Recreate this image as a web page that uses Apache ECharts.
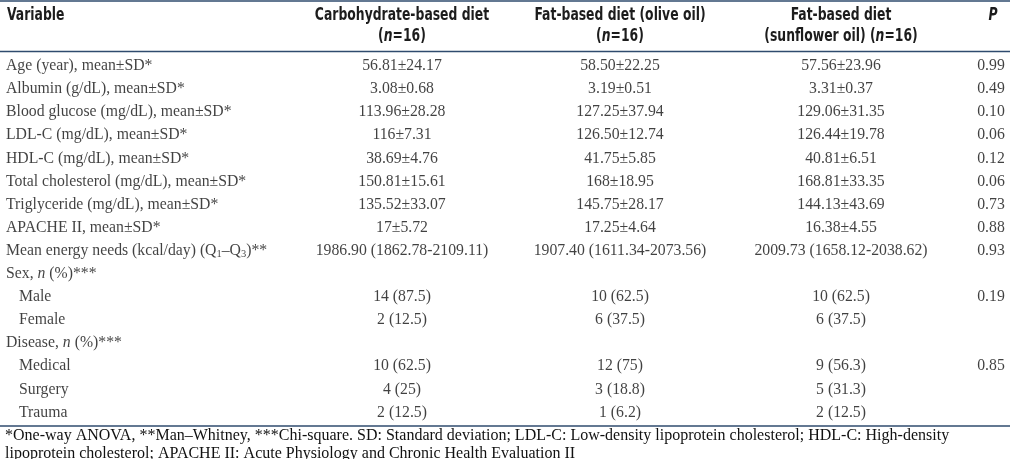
<!DOCTYPE html>
<html>
<head>
<meta charset="utf-8">
<script src="https://cdn.jsdelivr.net/npm/echarts@6/dist/echarts.min.js"></script>
<style>html,body{margin:0;padding:0;background:#fff;}#c{width:1010px;height:459px;}</style>
</head>
<body>
<div id="c"></div>
<script>
const variables = ["Age (year), mean±SD*", "Albumin (g/dL), mean±SD*", "Blood glucose (mg/dL), mean±SD*", "LDL-C (mg/dL), mean±SD*", "HDL-C (mg/dL), mean±SD*", "Total cholesterol (mg/dL), mean±SD*", "Triglyceride (mg/dL), mean±SD*", "APACHE II, mean±SD*", "Mean energy needs (kcal/day) (Q1–Q3)**", "Sex, n (%)***", "Male", "Female", "Disease, n (%)***", "Medical", "Surgery", "Trauma"];
const indentLevel = [0,0,0,0,0,0,0,0,0,0,1,1,0,1,1,1];
const carbohydrate = ["56.81±24.17","3.08±0.68","113.96±28.28","116±7.31","38.69±4.76","150.81±15.61","135.52±33.07","17±5.72","1986.90 (1862.78-2109.11)","","14 (87.5)","2 (12.5)","","10 (62.5)","4 (25)","2 (12.5)"];
const oliveOil = ["58.50±22.25","3.19±0.51","127.25±37.94","126.50±12.74","41.75±5.85","168±18.95","145.75±28.17","17.25±4.64","1907.40 (1611.34-2073.56)","","10 (62.5)","6 (37.5)","","12 (75)","3 (18.8)","1 (6.2)"];
const sunflowerOil = ["57.56±23.96","3.31±0.37","129.06±31.35","126.44±19.78","40.81±6.51","168.81±33.35","144.13±43.69","16.38±4.55","2009.73 (1658.12-2038.62)","","10 (62.5)","6 (37.5)","","9 (56.3)","5 (31.3)","2 (12.5)"];
const pValues = ["0.99","0.49","0.10","0.06","0.12","0.06","0.73","0.88","0.93","","0.19","","","0.85","",""];
const headers = ["Variable", "Carbohydrate-based diet", "(n=16)", "Fat-based diet (olive oil)", "(n=16)", "Fat-based diet", "(sunflower oil) (n=16)", "P"];
const footnote = ["*One-way ANOVA, **Man–Whitney, ***Chi-square. SD: Standard deviation; LDL-C: Low-density lipoprotein cholesterol; HDL-C: High-density", "lipoprotein cholesterol; APACHE II: Acute Physiology and Chronic Health Evaluation II"];

// layout
const W = 1010;
const colX = {variable: 6, indent: 19, carb: 402, olive: 620, sun: 841, p: 991};
const ruleColor = '#2f4b6e';
const bodyFont = '"Liberation Serif", "Times New Roman", serif';
const headFont = '"DejaVu Sans Condensed", "Liberation Sans Narrow", "Arial Narrow", sans-serif';
const textColor = '#111';
const bodySize = 15.75;
const gridTop = 54.5, rowH = 23.1;

const chart = echarts.init(document.getElementById('c'), null, {renderer: 'canvas'});

function richVar(s) {
  return s.replace(', n (', ', {i|n} (').replace('(Q1–Q3)', '(Q{sub|1}–Q{sub|3})');
}
const labelBase = {fontFamily: bodyFont, fontSize: bodySize, color: textColor, lineHeight: 18,
  rich: {
    i: {fontFamily: bodyFont, fontSize: bodySize, fontStyle: 'italic', color: textColor, lineHeight: 18},
    sub: {fontFamily: bodyFont, fontSize: 10.5, color: textColor, lineHeight: 10, verticalAlign: 'bottom'}
  }};

function colSeries(values, xFn, align) {
  return {
    type: 'scatter', silent: true, symbolSize: 1, itemStyle: {color: 'rgba(0,0,0,0)'},
    data: values.map((v, i) => ({value: [xFn(i), i], name: v})),
    label: Object.assign({show: true, position: 'inside', align: align, verticalAlign: 'middle',
      formatter: p => richVar(p.name)}, labelBase)
  };
}

const headStyle = {fontFamily: headFont, fontSize: 18, fontWeight: 'bold', fill: '#1c1c1c'};
const headScale = 0.765;
function hText(x, y, text, align, extra) {
  return {type: 'text', x: x, y: y, scaleX: headScale, silent: true,
    style: Object.assign({text: text, align: align, verticalAlign: 'middle'}, headStyle, extra || {})};
}
function nRich(s) { return s.replace('(n=', '({ni|n}='); }
const headRich = {ni: {fontFamily: headFont, fontSize: 18, fontWeight: 'bold', fontStyle: 'italic', fill: '#1c1c1c'}};

const option = {
  animation: false,
  grid: {left: 0, right: 0, top: gridTop, height: rowH * variables.length},
  xAxis: {type: 'value', min: 0, max: W, show: false},
  yAxis: {type: 'category', data: variables.map((v, i) => i), inverse: true, show: false},
  series: [
    colSeries(variables, i => indentLevel[i] ? colX.indent : colX.variable, 'left'),
    colSeries(carbohydrate, () => colX.carb, 'center'),
    colSeries(oliveOil, () => colX.olive, 'center'),
    colSeries(sunflowerOil, () => colX.sun, 'center'),
    colSeries(pValues, () => colX.p, 'center')
  ],
  graphic: [
    {type: 'line', silent: true, shape: {x1: 0, y1: 1, x2: W, y2: 1}, style: {stroke: ruleColor, lineWidth: 1.6}},
    {type: 'line', silent: true, shape: {x1: 0, y1: 51.5, x2: W, y2: 51.5}, style: {stroke: ruleColor, lineWidth: 1.4}},
    {type: 'line', silent: true, shape: {x1: 0, y1: 426, x2: W, y2: 426}, style: {stroke: ruleColor, lineWidth: 1.4}},
    hText(7, 15, headers[0], 'left'),
    hText(colX.carb, 15, headers[1], 'center'),
    hText(colX.carb, 36.5, nRich(headers[2]), 'center', {rich: headRich}),
    hText(colX.olive, 15, headers[3], 'center'),
    hText(colX.olive, 36.5, nRich(headers[4]), 'center', {rich: headRich}),
    hText(colX.sun, 15, headers[5], 'center'),
    hText(colX.sun, 36.5, nRich(headers[6]), 'center', {rich: headRich}),
    hText(993, 15, headers[7], 'center', {fontStyle: 'italic'}),
    {type: 'text', x: 5, y: 436, scaleX: 0.97, silent: true,
      style: {text: footnote[0], align: 'left', verticalAlign: 'middle', fontFamily: bodyFont, fontSize: 16.5, fill: textColor}},
    {type: 'text', x: 5, y: 454, scaleX: 0.97, silent: true,
      style: {text: footnote[1], align: 'left', verticalAlign: 'middle', fontFamily: bodyFont, fontSize: 16.5, fill: textColor}}
  ]
};
chart.setOption(option);
</script>
</body>
</html>
